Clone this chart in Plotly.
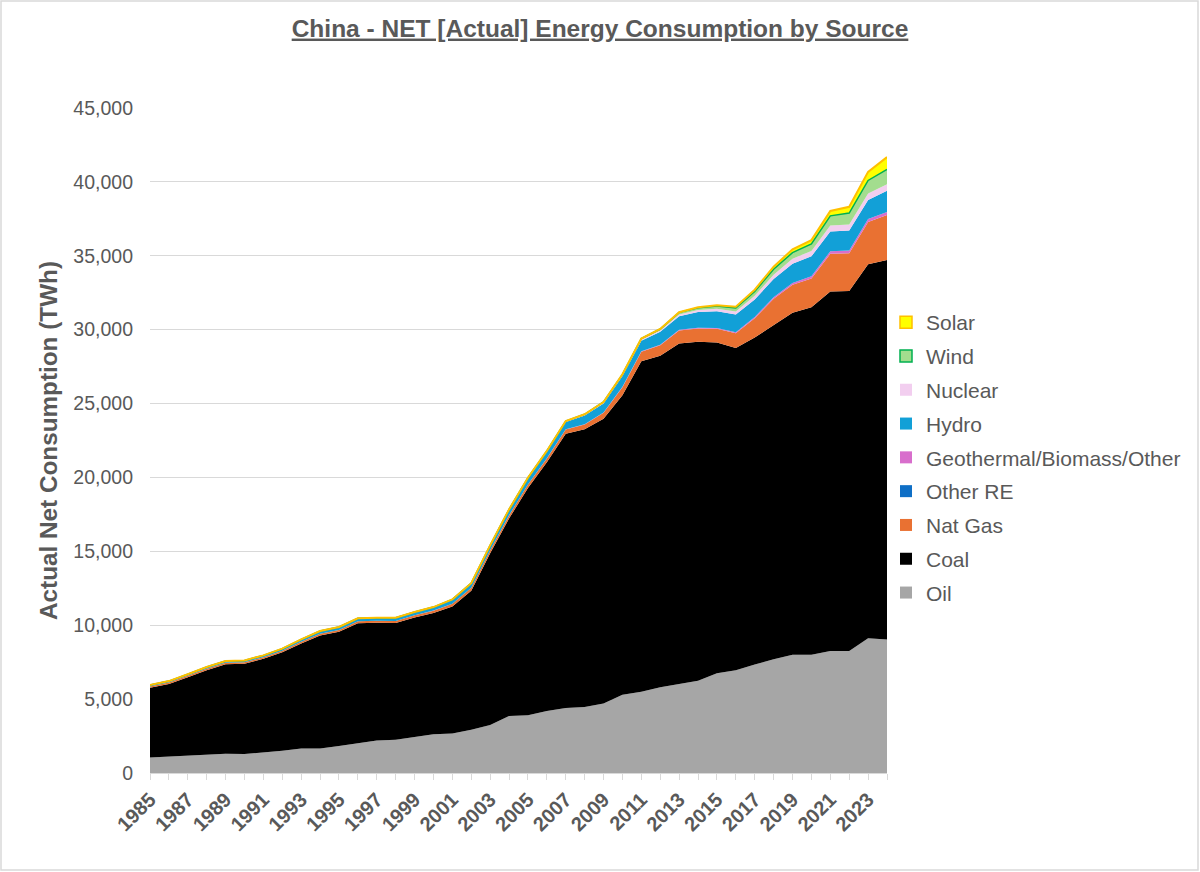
import plotly.graph_objects as go

years = [1985, 1986, 1987, 1988, 1989, 1990, 1991, 1992, 1993, 1994,
         1995, 1996, 1997, 1998, 1999, 2000, 2001, 2002, 2003, 2004,
         2005, 2006, 2007, 2008, 2009, 2010, 2011, 2012, 2013, 2014,
         2015, 2016, 2017, 2018, 2019, 2020, 2021, 2022, 2023, 2024]

oil = [1050, 1100, 1160, 1240, 1300, 1280, 1380, 1500, 1650, 1660,
       1830, 2000, 2200, 2250, 2450, 2620, 2680, 2920, 3250, 3850,
       3900, 4200, 4400, 4470, 4700, 5300, 5500, 5800, 6030, 6250,
       6750, 6950, 7340, 7700, 8000, 8000, 8250, 8250, 9120, 9030]

coal = [4720, 4930, 5325, 5720, 6060, 6110, 6345, 6670, 7120, 7650,
        7720, 8130, 7960, 7900, 8070, 8200, 8590, 9420, 11620, 13370,
        15390, 16830, 18550, 18790, 19270, 20260, 22360, 22440, 23040, 22930,
        22380, 21810, 22130, 22600, 23140, 23520, 24330, 24370, 25300, 25680]

nat_gas = [90, 95, 95, 100, 105, 105, 110, 110, 115, 120,
           125, 135, 140, 140, 150, 165, 180, 190, 200, 210,
           230, 260, 300, 330, 400, 550, 650, 700, 880, 900,
           930, 1000, 1300, 1800, 1900, 1950, 2550, 2550, 2870, 3050]

other_re = [0, 0, 0, 0, 0, 0, 0, 0, 0, 0,
            0, 0, 0, 0, 0, 0, 0, 0, 0, 0,
            0, 0, 0, 0, 0, 0, 0, 0, 0, 0,
            0, 0, 0, 0, 0, 0, 0, 0, 0, 0]

geo_bio = [0, 0, 0, 0, 0, 0, 0, 0, 0, 0,
           0, 0, 0, 0, 0, 3, 4, 4, 4, 5,
           5, 10, 15, 18, 22, 28, 35, 40, 45, 50,
           55, 65, 80, 95, 115, 140, 170, 185, 200, 210]

hydro = [92, 94, 100, 109, 118, 126, 125, 131, 152, 167,
         190, 188, 196, 204, 204, 222, 277, 288, 284, 354,
         397, 436, 485, 585, 616, 722, 699, 872, 921, 1064,
         1130, 1193, 1194, 1232, 1302, 1355, 1340, 1352, 1285, 1425]

nuclear = [0, 0, 0, 0, 0, 0, 0, 0, 2, 14,
           13, 14, 14, 14, 15, 17, 17, 25, 43, 50,
           53, 55, 62, 68, 70, 74, 86, 97, 112, 133,
           171, 213, 248, 295, 348, 366, 408, 418, 435, 451]

wind = [0, 0, 0, 0, 0, 0, 0, 0, 0, 0,
        0, 0, 0, 0, 0, 0, 0, 0, 0, 0,
        2, 4, 6, 13, 27, 45, 70, 96, 141, 160,
        186, 241, 295, 366, 406, 467, 656, 763, 886, 997]

solar = [0, 0, 0, 0, 0, 0, 0, 0, 0, 0,
         0, 0, 0, 0, 0, 0, 0, 0, 0, 0,
         0, 0, 0, 0, 0, 1, 3, 6, 15, 29,
         45, 75, 118, 177, 224, 261, 327, 428, 584, 834]

x_tick_labels = ["1985", "", "1987", "", "1989", "", "1991", "", "1993", "",
                 "1995", "", "1997", "", "1999", "", "2001", "", "2003", "",
                 "2005", "", "2007", "", "2009", "", "2011", "", "2013", "",
                 "2015", "", "2017", "", "2019", "", "2021", "", "2023", ""]

y_tick_vals = [0, 5000, 10000, 15000, 20000, 25000, 30000, 35000, 40000, 45000]

FONT = "Liberation Sans, Arial, sans-serif"
GREY = "#595959"

# plot-area pixel box
L, R, T, B = 150, 887, 108, 773
PW, PH = R - L, B - T

# (name, values, fill colour, edge colour, edge width)
series = [
    ("Oil", oil, "#A6A6A6", "#A6A6A6", 0),
    ("Coal", coal, "#000000", "#000000", 0),
    ("Nat Gas", nat_gas, "#E97132", "#E97132", 0),
    ("Other RE", other_re, "#0F6FC6", "#0F6FC6", 0),
    ("Geothermal/Biomass/Other", geo_bio, "#D86ECC", "#D86ECC", 0),
    ("Hydro", hydro, "#12A0D7", "#12A0D7", 0),
    ("Nuclear", nuclear, "#F2CEEF", "#F2CEEF", 0),
    ("Wind", wind, "#A3DD8E", "#00B050", 1.5),
    ("Solar", solar, "#FFFF00", "#FFC000", 2),
]

fig = go.Figure()
for name, vals, fill, edge, w in series:
    fig.add_trace(go.Scatter(
        x=years, y=vals, name=name, stackgroup="one", mode="lines",
        fillcolor=fill, line=dict(color=edge, width=w),
        showlegend=False, legendgroup=name,
    ))

# legend entries (square swatches), Solar first
for name, vals, fill, edge, w in reversed(series):
    fig.add_trace(go.Scatter(
        x=[None], y=[None], mode="markers", name=name, legendgroup=name,
        marker=dict(symbol="square", size=12, color=fill,
                    line=dict(color=edge, width=1.5 if w else 0)),
        showlegend=True,
    ))

fig.update_layout(
    width=1200, height=872,
    margin=dict(l=L, r=1200 - R, t=T, b=872 - B, autoexpand=False),
    paper_bgcolor="white", plot_bgcolor="white",
    font=dict(family=FONT, color=GREY),
    title=dict(
        text="<u>China - NET [Actual] Energy Consumption by Source</u>",
        font=dict(family=FONT, size=24.5, color=GREY, weight="bold"),
        x=0.5, xref="container", xanchor="center",
        y=1 - 28 / 872, yref="container", yanchor="middle",
    ),
    legend=dict(
        x=(886 - L) / PW, xanchor="left", xref="paper",
        y=(B - 302) / PH, yanchor="top", yref="paper",
        font=dict(family=FONT, size=21, color=GREY),
        traceorder="grouped", tracegroupgap=3.5,
        itemwidth=30, bgcolor="rgba(0,0,0,0)",
    ),
    showlegend=True,
    hovermode=False,
)

fig.update_xaxes(
    range=[1985, 2024], tickmode="array", tickvals=years, ticktext=x_tick_labels,
    tickangle=-45, tickfont=dict(family=FONT, size=20, color=GREY, weight="bold"),
    ticks="outside", ticklen=6, tickcolor="#D9D9D9",
    showline=True, linecolor="#D9D9D9", linewidth=1,
    showgrid=False, zeroline=False,
)

fig.update_yaxes(
    range=[0, 45000], tickmode="array", tickvals=y_tick_vals, tickformat=",",
    tickfont=dict(family=FONT, size=19.5, color=GREY),
    showgrid=True, gridcolor="#D9D9D9", gridwidth=1,
    zeroline=False, showline=False, ticks="", ticklabelstandoff=16,
    title=dict(text="Actual Net Consumption (TWh)",
               font=dict(family=FONT, size=24.3, color=GREY, weight="bold"),
               standoff=8),
)

# outer chart border
fig.add_shape(type="rect", xref="paper", yref="paper",
              x0=(1 - L) / PW, x1=(1198 - L) / PW,
              y0=(B - 870) / PH, y1=(B - 1) / PH,
              line=dict(color="#D9D9D9", width=1.5), fillcolor="rgba(0,0,0,0)",
              layer="below")

fig.write_html("out.html")
